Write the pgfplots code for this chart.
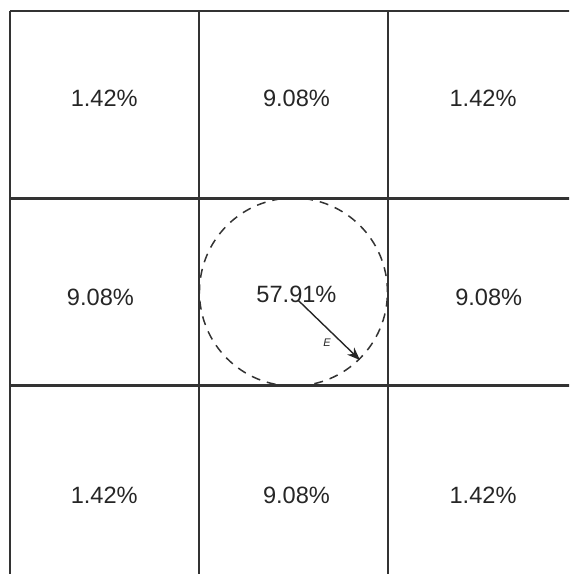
\documentclass[border=0pt]{standalone}
\usepackage{pgfplots}
\pgfplotsset{compat=1.18}
\usepackage{fontspec}
\setmainfont{Liberation Sans}
\usetikzlibrary{arrows.meta}
\definecolor{gridc}{gray}{0.2}
\definecolor{txt}{gray}{0.15}
\begin{document}
\begin{tikzpicture}
\begin{axis}[
  scale only axis,
  width=284.5pt, height=287pt,
  xmin=-0.053, xmax=2.966,
  ymin=0.011, ymax=3.056,
  hide axis,
  clip=true,
]
% grid lines
\addplot[gridc, line width=1.05pt] coordinates {(0,-0.1) (0,3)};
\addplot[gridc, line width=1.05pt] coordinates {(1.003,-0.1) (1.003,3)};
\addplot[gridc, line width=1.05pt] coordinates {(2.005,-0.1) (2.005,3)};
\addplot[gridc, line width=1.05pt] coordinates {(0,3) (3.1,3)};
\addplot[gridc, line width=1.05pt] coordinates {(0,2.003) (3.1,2.003)};
\addplot[gridc, line width=1.05pt] coordinates {(0,1.011) (3.1,1.011)};
% dashed circle
\draw[gridc, line width=0.75pt, dash pattern=on 4.5pt off 3.5pt] (axis cs:1.504,1.507) circle[radius=47pt];
% arrow
\addplot[black!85, line width=0.7pt, -{Stealth[length=6.5pt,width=5pt]}] coordinates {(1.528,1.464) (1.857,1.146)};
\node[txt, font=\fontsize{5.5}{6}\selectfont\itshape] at (axis cs:1.682,1.236) {E};
% labels
\node[txt, font=\fontsize{11.8}{13}\selectfont] at (axis cs:0.50,2.536) {1.42\%};
\node[txt, font=\fontsize{11.8}{13}\selectfont] at (axis cs:1.52,2.536) {9.08\%};
\node[txt, font=\fontsize{11.8}{13}\selectfont] at (axis cs:2.51,2.536) {1.42\%};
\node[txt, font=\fontsize{11.8}{13}\selectfont] at (axis cs:0.48,1.480) {9.08\%};
\node[txt, font=\fontsize{11.8}{13}\selectfont] at (axis cs:1.52,1.496) {57.91\%};
\node[txt, font=\fontsize{11.8}{13}\selectfont] at (axis cs:2.54,1.480) {9.08\%};
\node[txt, font=\fontsize{11.8}{13}\selectfont] at (axis cs:0.50,0.430) {1.42\%};
\node[txt, font=\fontsize{11.8}{13}\selectfont] at (axis cs:1.52,0.430) {9.08\%};
\node[txt, font=\fontsize{11.8}{13}\selectfont] at (axis cs:2.51,0.430) {1.42\%};
\end{axis}
\pgfresetboundingbox
\path (current axis.south west) rectangle (current axis.north east);
\end{tikzpicture}
\end{document}
